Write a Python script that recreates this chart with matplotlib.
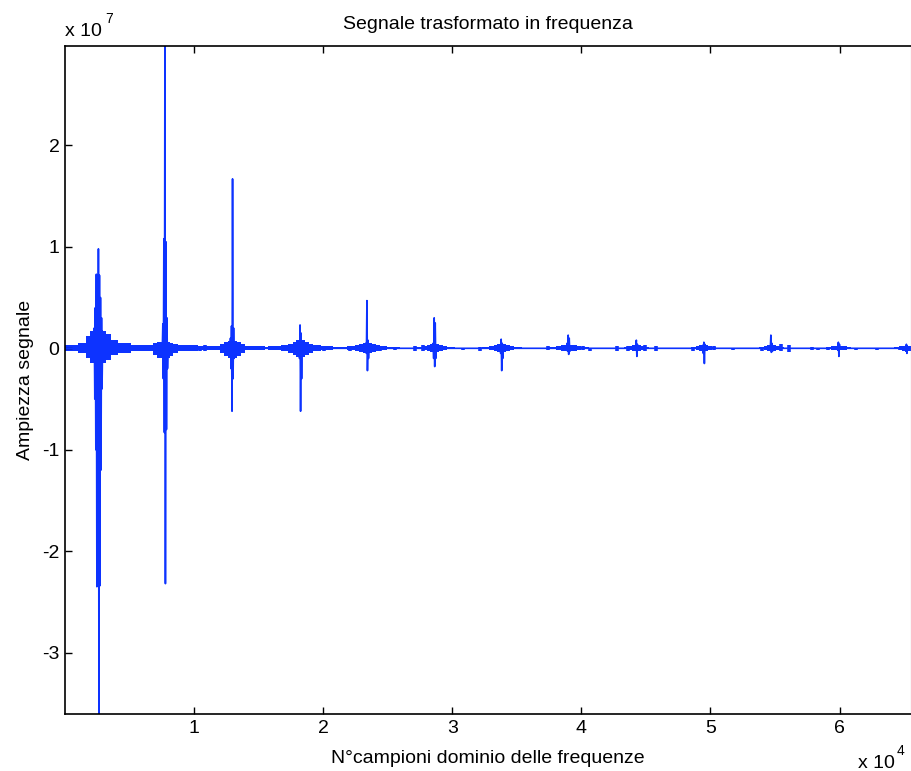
import numpy as np
import matplotlib.pyplot as plt

plt.rcParams['font.family'] = ['Liberation Sans', 'DejaVu Sans']

SCALE = 1e7
N_CAMPIONI = 65536
BLU = '#0d33ff'

# picchi principali: posizione (campioni) e sequenza di ampiezze (x 1e7)
peak_pos = [2590, 7780, 12980, 18250, 23430, 28640, 33830, 39020,
            44300, 49490, 54760, 59950, 65220]
peak_seq = [
    [0.20, -0.50, 0.40, -1.00, 0.73, -2.35, 0.70, -2.30, 0.98, -3.605,
     0.72, -2.34, 0.50, -1.20, 0.30, -0.40],
    [0.24, -0.30, 1.08, -0.83, 2.98, -2.32, 1.05, -0.80, 0.30, -0.20],
    [0.10, -0.20, 0.22, -0.62, 1.67, -0.30, 0.20, -0.10],
    [0.05, -0.10, 0.23, -0.62, 0.15, -0.30, 0.05],
    [0.05, -0.05, 0.47, -0.22, 0.08, -0.10],
    [0.05, -0.10, 0.30, -0.18, 0.25, -0.10],
    [0.03, -0.05, 0.09, -0.22, 0.05, -0.10],
    [0.05, -0.03, 0.13, -0.06, 0.10, -0.03],
    [0.03, 0.08, -0.08, 0.04],
    [0.03, -0.05, 0.06, -0.15, 0.04],
    [0.13, -0.04, 0.05, -0.03],
    [0.06, -0.08, 0.04],
    [0.04, -0.05],
]
passo = 40  # distanza fra campioni consecutivi nei picchi

# rumore attorno ai picchi: inviluppo superiore/inferiore (x 1e7)
band_off = [-3100, -1940, -1160, -780, -470, -230, 0, 230, 470, 780, 1160, 1940, 3100, 4650]
band_hi = [
    [0.03, 0.03, 0.05, 0.12, 0.17, 0.18, 0.18, 0.18, 0.17, 0.14, 0.08, 0.05, 0.03, 0.02],
    [0.02, 0.02, 0.03, 0.05, 0.06, 0.06, 0.06, 0.06, 0.05, 0.04, 0.03, 0.03, 0.02, 0.02],
    [0.00, 0.02, 0.02, 0.04, 0.06, 0.07, 0.07, 0.07, 0.06, 0.04, 0.02, 0.02, 0.01, 0.00],
    [0.01, 0.02, 0.03, 0.04, 0.06, 0.08, 0.08, 0.08, 0.06, 0.04, 0.03, 0.02, 0.01, 0.00],
    [0.00, 0.01, 0.02, 0.03, 0.04, 0.05, 0.06, 0.05, 0.04, 0.03, 0.02, 0.01, 0.00, 0.00],
    [0.00, 0.00, 0.01, 0.02, 0.03, 0.04, 0.05, 0.04, 0.03, 0.02, 0.01, 0.00, 0.00, 0.00],
    [0.00, 0.00, 0.01, 0.02, 0.03, 0.04, 0.04, 0.04, 0.03, 0.02, 0.01, 0.00, 0.00, 0.00],
    [0.00, 0.00, 0.01, 0.02, 0.03, 0.03, 0.04, 0.03, 0.03, 0.02, 0.01, 0.00, 0.00, 0.00],
    [0.00, 0.00, 0.00, 0.01, 0.02, 0.03, 0.03, 0.03, 0.02, 0.01, 0.00, 0.00, 0.00, 0.00],
    [0.00, 0.00, 0.00, 0.01, 0.02, 0.03, 0.03, 0.03, 0.02, 0.01, 0.00, 0.00, 0.00, 0.00],
    [0.00, 0.00, 0.00, 0.01, 0.02, 0.03, 0.03, 0.03, 0.02, 0.01, 0.00, 0.00, 0.00, 0.00],
    [0.00, 0.00, 0.00, 0.01, 0.02, 0.02, 0.03, 0.02, 0.02, 0.01, 0.00, 0.00, 0.00, 0.00],
    [0.00, 0.00, 0.00, 0.01, 0.02, 0.02, 0.03, 0.02, 0.02, 0.01, 0.00, 0.00, 0.00, 0.00],
]
band_lo = [
    [-0.03, -0.03, -0.05, -0.10, -0.14, -0.15, -0.15, -0.15, -0.14, -0.12, -0.07, -0.05, -0.03, -0.02],
    [-0.02, -0.02, -0.03, -0.07, -0.10, -0.10, -0.10, -0.10, -0.08, -0.05, -0.03, -0.03, -0.02, -0.02],
    [0.00, -0.02, -0.02, -0.05, -0.08, -0.10, -0.10, -0.10, -0.08, -0.05, -0.02, -0.02, -0.01, 0.00],
    [-0.01, -0.02, -0.03, -0.05, -0.07, -0.09, -0.09, -0.09, -0.07, -0.05, -0.03, -0.02, -0.01, 0.00],
    [0.00, -0.01, -0.02, -0.03, -0.04, -0.05, -0.06, -0.05, -0.04, -0.03, -0.02, -0.01, 0.00, 0.00],
    [0.00, 0.00, -0.01, -0.02, -0.03, -0.04, -0.05, -0.04, -0.03, -0.02, -0.01, 0.00, 0.00, 0.00],
    [0.00, 0.00, -0.01, -0.02, -0.03, -0.04, -0.05, -0.04, -0.03, -0.02, -0.01, 0.00, 0.00, 0.00],
    [0.00, 0.00, -0.01, -0.02, -0.03, -0.03, -0.04, -0.03, -0.03, -0.02, -0.01, 0.00, 0.00, 0.00],
    [0.00, 0.00, 0.00, -0.01, -0.02, -0.03, -0.03, -0.03, -0.02, -0.01, 0.00, 0.00, 0.00, 0.00],
    [0.00, 0.00, 0.00, -0.01, -0.02, -0.03, -0.04, -0.03, -0.02, -0.01, 0.00, 0.00, 0.00, 0.00],
    [0.00, 0.00, 0.00, -0.01, -0.02, -0.03, -0.03, -0.03, -0.02, -0.01, 0.00, 0.00, 0.00, 0.00],
    [0.00, 0.00, 0.00, -0.01, -0.02, -0.02, -0.03, -0.02, -0.02, -0.01, 0.00, 0.00, 0.00, 0.00],
    [0.00, 0.00, 0.00, -0.01, -0.02, -0.03, -0.04, -0.03, -0.02, -0.01, 0.00, 0.00, 0.00, 0.00],
]

# piccoli disturbi isolati fra un picco e l'altro (x 1e7)
blip_pos = [10430, 10810, 15860, 19580, 20040, 22060, 24390, 25550, 27100, 27730,
            30830, 32150, 37430, 40140, 40690, 42780, 43630, 44950, 45800, 48670,
            50300, 51770, 54020, 55500, 56120, 57900, 58370, 59140, 61240, 62870, 64650]
blip_hi = [0.02, 0.03, 0.02, 0.03, 0.02, 0.01, 0.02, 0.00, 0.02, 0.03,
           0.00, 0.01, 0.02, 0.02, 0.00, 0.02, 0.02, 0.03, 0.02, 0.00,
           0.02, 0.00, 0.00, 0.04, 0.03, 0.01, 0.00, 0.00, 0.00, 0.00, 0.00]
blip_lo = [-0.03, -0.03, -0.02, -0.03, -0.03, -0.03, -0.03, -0.02, -0.03, -0.03,
           -0.02, -0.03, -0.02, -0.02, -0.03, -0.03, -0.03, -0.03, -0.03, -0.03,
           -0.02, -0.02, -0.03, -0.03, -0.04, -0.02, -0.02, -0.02, -0.02, -0.02, -0.02]

# costruzione del segnale: linea di base a zero con i picchi inseriti
xs = [1]
ys = [0.0]
for c, seq in zip(peak_pos, peak_seq):
    start = c - (len(seq) // 2) * passo
    xs.append(start - passo)
    ys.append(0.0)
    for k, v in enumerate(seq):
        xs.append(start + k * passo)
        ys.append(v)
    xs.append(start + len(seq) * passo)
    ys.append(0.0)
xs.append(N_CAMPIONI)
ys.append(0.0)

fig = plt.figure(figsize=(9.11, 7.71), dpi=100)
ax = fig.add_axes([65 / 911, 57 / 771, 846 / 911, 668 / 771])

for c, hi, lo in zip(peak_pos, band_hi, band_lo):
    bx = np.array(band_off) + c
    ax.fill_between(bx, np.array(lo) * SCALE, np.array(hi) * SCALE,
                    step='mid', color=BLU, lw=0)

ax.vlines(blip_pos, np.array(blip_lo) * SCALE, np.array(blip_hi) * SCALE,
          color=BLU, lw=2.6)
ax.plot(xs, np.array(ys) * SCALE, color=BLU, lw=1.2)

ax.set_xlim(1, N_CAMPIONI)
ax.set_ylim(-3.605 * SCALE, 2.98 * SCALE)
ax.set_xticks(np.arange(1, 7) * 1e4)
ax.set_xticklabels([str(i) for i in range(1, 7)])
ax.set_yticks(np.arange(-3, 3) * SCALE)
ax.set_yticklabels([str(i) for i in range(-3, 3)])
ax.tick_params(direction='in', top=True, right=False, length=5, width=1,
               labelsize=14, pad=4)
for side in ['top', 'left', 'bottom']:
    ax.spines[side].set_linewidth(1.2)
ax.spines['right'].set_color('#999999')

ax.set_title('Segnale trasformato in frequenza', fontsize=14, pad=12)
ax.set_xlabel('N°campioni dominio delle frequenze', fontsize=14, labelpad=10)
ax.set_ylabel('Ampiezza segnale', fontsize=14, labelpad=6)

# fattori di scala degli assi
fig.text(65 / 911, 1 - 36 / 771, 'x 10', fontsize=14)
fig.text(105 / 911, 1 - 23 / 771, '7', fontsize=10)
fig.text(858 / 911, 1 - 768 / 771, 'x 10', fontsize=14)
fig.text(897 / 911, 1 - 755 / 771, '4', fontsize=10)

fig.savefig('out.png', dpi=100)
